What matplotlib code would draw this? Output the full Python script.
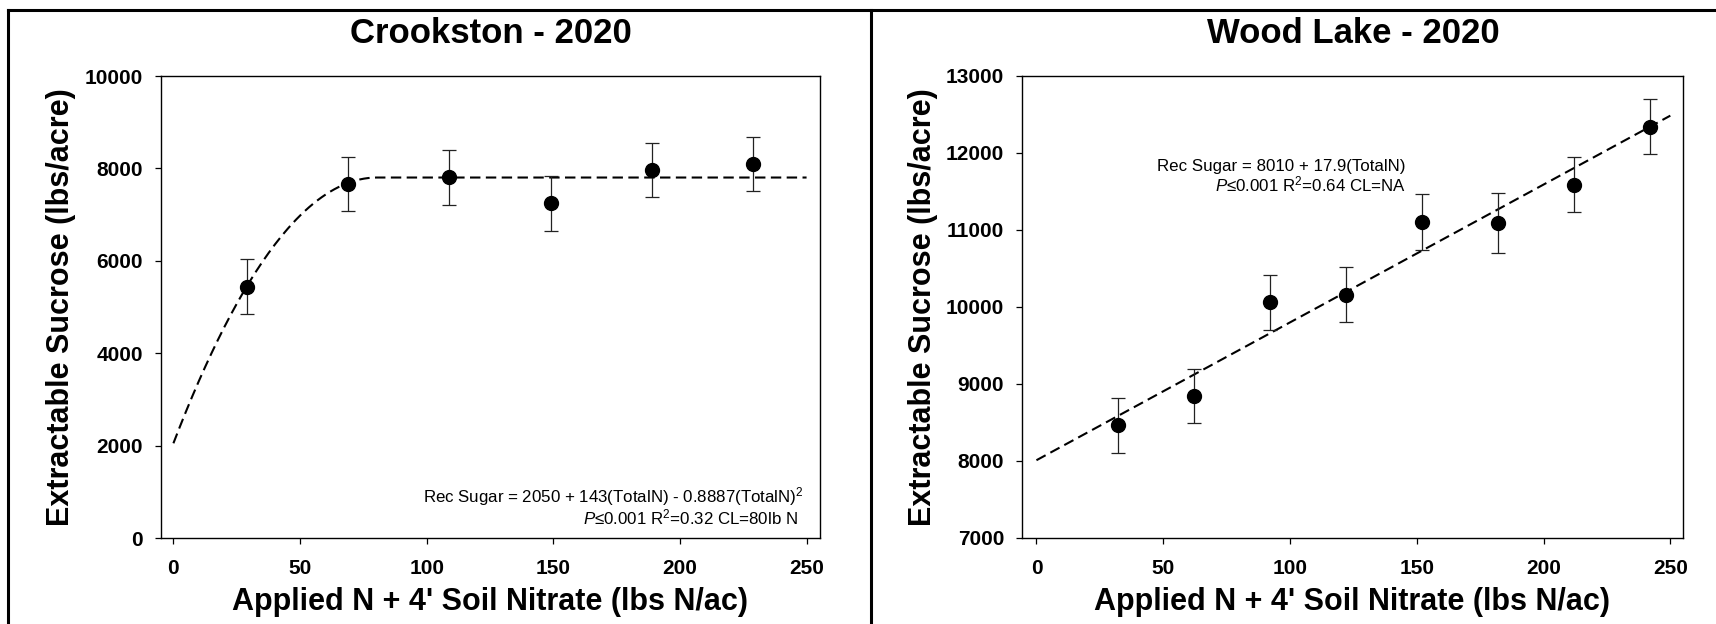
import numpy as np
import matplotlib
matplotlib.use("Agg")
from matplotlib import pyplot as plt
from matplotlib.lines import Line2D

plt.rcParams['font.family'] = ['Liberation Sans', 'DejaVu Sans']
plt.rcParams['mathtext.fontset'] = 'custom'
plt.rcParams['mathtext.rm'] = 'Liberation Sans'
plt.rcParams['mathtext.it'] = 'Liberation Sans:italic'
plt.rcParams['mathtext.bf'] = 'Liberation Sans:bold'

# Crookston - 2020
crk_n = [29, 69, 109, 149, 189, 229]
crk_sugar = [5440, 7660, 7805, 7245, 7965, 8095]
crk_se = [595, 590, 595, 595, 590, 590]
crk_coef = [2050, 143, -0.8887]

# Wood Lake - 2020
wl_n = [32, 62, 92, 122, 152, 182, 212, 242]
wl_sugar = [8465, 8845, 10060, 10160, 11105, 11095, 11585, 12340]
wl_se = [355, 355, 357, 357, 360, 392, 357, 357]
wl_coef = [8010, 17.9]

crk_ticks = [0, 2000, 4000, 6000, 8000, 10000]
wl_ticks = [7000, 8000, 9000, 10000, 11000, 12000, 13000]
n_ticks = [0, 50, 100, 150, 200, 250]

W, H = 1716, 624
fig = plt.figure(figsize=(W / 100, H / 100), dpi=100)

ax1 = fig.add_axes([161 / W, 1 - 538 / H, (820 - 161) / W, (538 - 76) / H])
ax2 = fig.add_axes([1022 / W, 1 - 538 / H, (1683 - 1022) / W, (538 - 76) / H])


def quad_plateau(x, c):
    xv = -c[1] / (2 * c[2])
    xx = np.minimum(x, xv)
    return c[0] + c[1] * xx + c[2] * xx ** 2


xf = np.linspace(0, 250, 300)
ax1.plot(xf, quad_plateau(xf, crk_coef), color='black', lw=1.5, ls=(0, (5, 2.6)), zorder=2)
ax1.errorbar(crk_n, crk_sugar, yerr=crk_se, fmt='o', color='black', ms=10,
             ecolor='#222222', elinewidth=0.9, capsize=5, capthick=0.9, zorder=3)

ax2.plot(xf, wl_coef[0] + wl_coef[1] * xf, color='black', lw=1.5, ls=(0, (5, 2.6)), zorder=2)
ax2.errorbar(wl_n, wl_sugar, yerr=wl_se, fmt='o', color='black', ms=10,
             ecolor='#222222', elinewidth=0.9, capsize=5, capthick=0.9, zorder=3)

ax1.set_xlim(-4.9, 255.3)
ax1.set_ylim(0, 10000)
ax1.set_yticks(crk_ticks)
ax2.set_xlim(-5.7, 255)
ax2.set_ylim(7000, 13000)
ax2.set_yticks(wl_ticks)

for ax in (ax1, ax2):
    ax.set_xticks(n_ticks)
    for s in ax.spines.values():
        s.set_linewidth(1.0)
        s.set_color('black')
    ax.tick_params(direction='out', length=4.3, width=0.9, labelsize=15)
    ax.tick_params(axis='x', pad=11)
    ax.tick_params(axis='y', pad=8.6)
    for lab in ax.get_xticklabels() + ax.get_yticklabels():
        lab.set_fontweight('bold')
    ax.set_xlabel("Applied N + 4' Soil Nitrate (lbs N/ac)", fontsize=22,
                  fontweight='bold', labelpad=6)
    ax.set_ylabel("Extractable Sucrose (lbs/acre)", fontsize=22,
                  fontweight='bold', labelpad=6)

fig.text(490.5 / W, 1 - 43.3 / H, "Crookston - 2020", fontsize=25, fontweight='bold',
         ha='center', va='baseline')
fig.text(1353 / W, 1 - 43.3 / H, "Wood Lake - 2020", fontsize=25, fontweight='bold',
         ha='center', va='baseline')

ax1.text(248.6, 760, r"Rec Sugar = 2050 + 143(TotalN) - 0.8887(TotalN)$^2$",
         fontsize=12.2, ha='right', va='baseline')
ax1.text(246.7, 290, r"$P$≤0.001 R$^2$=0.32 CL=80lb N",
         fontsize=12.2, ha='right', va='baseline')
ax2.text(145.6, 11765, "Rec Sugar = 8010 + 17.9(TotalN)",
         fontsize=12.2, ha='right', va='baseline')
ax2.text(145.6, 11505, r"$P$≤0.001 R$^2$=0.64 CL=NA",
         fontsize=12.2, ha='right', va='baseline')

# outer frame of the figure
for xs, ys in [([8 / W, 1.0], [1 - 10 / H, 1 - 10 / H]),
               ([8 / W, 8 / W], [1 - 10 / H, 0]),
               ([870.5 / W, 870.5 / W], [1 - 10 / H, 0])]:
    fig.add_artist(Line2D(xs, ys, color='black', lw=2.2, transform=fig.transFigure))

fig.savefig('out.png', dpi=100)
